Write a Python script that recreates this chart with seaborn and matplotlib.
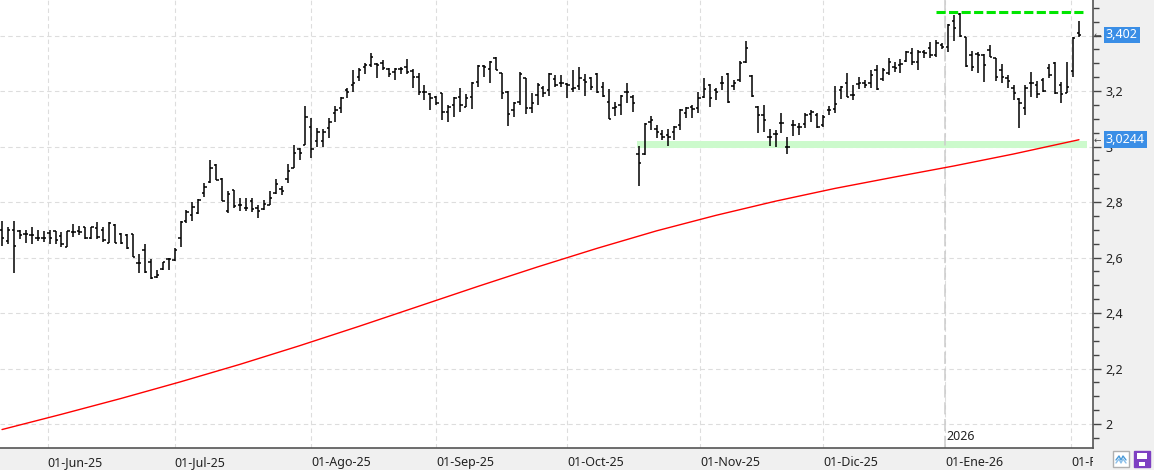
import matplotlib
matplotlib.use("Agg")
import numpy as np
import pandas as pd
import seaborn as sns
import matplotlib.pyplot as plt
import matplotlib.transforms as mtransforms
from matplotlib.patches import Rectangle
from matplotlib.lines import Line2D

# === datos ===
month_labels = ['01-Jun-25', '01-Jul-25', '01-Ago-25', '01-Sep-25', '01-Oct-25',
                '01-Nov-25', '01-Dic-25', '01-Ene-26', '01-Feb-26']
month_pos = [7.67, 29, 52, 73, 95, 117.33, 138, 158.5, 179.67]
year_pos = 158.5
year_label = '2026'

opens = [2.70, 2.66, 2.70, 2.695, 2.685, 2.68, 2.67, 2.672, 2.69, 2.694,
         2.677, 2.637, 2.693, 2.697, 2.71, 2.669, 2.705, 2.70, 2.653, 2.717,
         2.685, 2.682, 2.685, 2.58, 2.627, 2.585, 2.529, 2.557, 2.593, 2.591,
         2.669, 2.731, 2.753, 2.761, 2.831, 2.873, 2.933, 2.884, 2.768, 2.842,
         2.79, 2.78, 2.802, 2.78, 2.774, 2.79, 2.832, 2.848, 2.884, 2.924,
         2.992, 3.004, 3.072, 3.02, 3.02, 3.066, 3.12, 3.14, 3.204, 3.222,
         3.252, 3.288, 3.294, 3.296, 3.30, 3.28, 3.268, 3.28, 3.288, 3.272,
         3.252, 3.198, 3.188, 3.18, 3.192, 3.124, 3.15, 3.18, 3.144, 3.18,
         3.232, 3.29, 3.278, 3.318, 3.264, 3.198, 3.13, 3.162, 3.246, 3.138,
         3.186, 3.21, 3.204, 3.242, 3.228, 3.226, 3.206, 3.218, 3.24, 3.246,
         3.262, 3.216, 3.162, 3.138, 3.15, 3.198, 3.178, 2.974, 2.974, 3.09,
         3.062, 3.046, 3.042, 3.054, 3.078, 3.12, 3.144, 3.138, 3.18, 3.222,
         3.202, 3.228, 3.262, 3.218, 3.238, 3.306, 3.254, 3.144, 3.114, 3.036,
         3.046, 3.084, 3.0, 3.078, 3.07, 3.082, 3.118, 3.114, 3.078, 3.13,
         3.134, 3.204, 3.23, 3.186, 3.226, 3.228, 3.228, 3.276, 3.244, 3.264,
         3.288, 3.292, 3.308, 3.336, 3.306, 3.34, 3.356, 3.33, 3.366, 3.36,
         3.452, 3.476, 3.396, 3.33, 3.332, 3.33, 3.348, 3.318, 3.276, 3.248,
         3.21, 3.172, 3.138, 3.228, 3.222, 3.24, 3.282, 3.30, 3.222, 3.192,
         3.272, 3.408]
highs = [2.73, 2.71, 2.73, 2.70, 2.70, 2.71, 2.70, 2.695, 2.70, 2.697,
         2.693, 2.697, 2.72, 2.713, 2.71, 2.71, 2.727, 2.71, 2.727, 2.72,
         2.687, 2.685, 2.685, 2.613, 2.649, 2.593, 2.555, 2.585, 2.597, 2.633,
         2.733, 2.771, 2.799, 2.81, 2.867, 2.951, 2.937, 2.886, 2.838, 2.844,
         2.814, 2.814, 2.814, 2.788, 2.808, 2.838, 2.884, 2.856, 2.936, 3.004,
         2.994, 3.146, 3.104, 3.068, 3.064, 3.104, 3.146, 3.18, 3.212, 3.276,
         3.282, 3.30, 3.336, 3.30, 3.312, 3.282, 3.284, 3.288, 3.314, 3.28,
         3.264, 3.22, 3.192, 3.182, 3.194, 3.15, 3.18, 3.21, 3.19, 3.232,
         3.294, 3.294, 3.308, 3.322, 3.266, 3.20, 3.162, 3.268, 3.246, 3.192,
         3.23, 3.218, 3.264, 3.258, 3.258, 3.23, 3.276, 3.286, 3.262, 3.25,
         3.264, 3.234, 3.206, 3.162, 3.186, 3.228, 3.186, 3.002, 3.086, 3.11,
         3.078, 3.06, 3.062, 3.074, 3.134, 3.142, 3.15, 3.198, 3.246, 3.226,
         3.21, 3.254, 3.266, 3.24, 3.308, 3.38, 3.258, 3.146, 3.15, 3.062,
         3.06, 3.12, 3.034, 3.094, 3.086, 3.122, 3.132, 3.12, 3.114, 3.146,
         3.218, 3.218, 3.266, 3.222, 3.25, 3.24, 3.276, 3.292, 3.284, 3.32,
         3.304, 3.316, 3.344, 3.356, 3.348, 3.348, 3.376, 3.384, 3.372, 3.44,
         3.474, 3.48, 3.396, 3.344, 3.342, 3.332, 3.366, 3.32, 3.296, 3.256,
         3.222, 3.176, 3.22, 3.27, 3.236, 3.248, 3.296, 3.304, 3.234, 3.304,
         3.396, 3.452]
lows = [2.64, 2.65, 2.545, 2.665, 2.654, 2.647, 2.66, 2.657, 2.65, 2.65,
        2.639, 2.637, 2.675, 2.681, 2.667, 2.665, 2.665, 2.655, 2.653, 2.653,
        2.649, 2.63, 2.603, 2.545, 2.545, 2.521, 2.525, 2.555, 2.555, 2.589,
        2.639, 2.723, 2.733, 2.757, 2.819, 2.867, 2.879, 2.802, 2.76, 2.78,
        2.768, 2.766, 2.764, 2.742, 2.772, 2.788, 2.828, 2.824, 2.868, 2.922,
        2.952, 3.004, 2.958, 3.0, 2.998, 3.032, 3.09, 3.12, 3.174, 3.198,
        3.236, 3.26, 3.288, 3.248, 3.276, 3.252, 3.24, 3.26, 3.26, 3.212,
        3.184, 3.168, 3.132, 3.15, 3.096, 3.09, 3.108, 3.126, 3.142, 3.134,
        3.214, 3.252, 3.23, 3.274, 3.17, 3.074, 3.106, 3.15, 3.116, 3.122,
        3.15, 3.178, 3.182, 3.214, 3.214, 3.174, 3.198, 3.202, 3.182, 3.202,
        3.192, 3.178, 3.098, 3.11, 3.114, 3.156, 3.126, 2.856, 2.97, 3.058,
        3.03, 3.024, 3.002, 3.022, 3.058, 3.102, 3.102, 3.12, 3.174, 3.144,
        3.166, 3.204, 3.158, 3.202, 3.234, 3.302, 3.18, 3.05, 3.054, 3.002,
        2.998, 3.05, 2.974, 3.038, 3.042, 3.066, 3.09, 3.066, 3.07, 3.114,
        3.12, 3.17, 3.178, 3.166, 3.206, 3.21, 3.212, 3.204, 3.236, 3.258,
        3.27, 3.264, 3.306, 3.292, 3.276, 3.32, 3.32, 3.324, 3.352, 3.342,
        3.38, 3.396, 3.288, 3.272, 3.264, 3.234, 3.324, 3.236, 3.228, 3.212,
        3.168, 3.068, 3.114, 3.18, 3.174, 3.198, 3.248, 3.188, 3.156, 3.192,
        3.252, 3.396]
closes = [2.67, 2.70, 2.64, 2.68, 2.685, 2.68, 2.67, 2.672, 2.67, 2.663,
          2.649, 2.695, 2.693, 2.693, 2.669, 2.709, 2.673, 2.663, 2.723, 2.653,
          2.653, 2.633, 2.603, 2.579, 2.549, 2.525, 2.537, 2.583, 2.593, 2.627,
          2.729, 2.765, 2.781, 2.807, 2.853, 2.921, 2.881, 2.804, 2.828, 2.784,
          2.788, 2.78, 2.776, 2.766, 2.792, 2.814, 2.864, 2.84, 2.91, 2.976,
          2.976, 3.108, 2.992, 3.052, 3.052, 3.09, 3.132, 3.174, 3.198, 3.228,
          3.276, 3.292, 3.324, 3.292, 3.282, 3.26, 3.28, 3.28, 3.27, 3.252,
          3.198, 3.196, 3.174, 3.156, 3.124, 3.144, 3.174, 3.15, 3.174, 3.228,
          3.29, 3.286, 3.306, 3.276, 3.194, 3.118, 3.156, 3.262, 3.138, 3.158,
          3.222, 3.194, 3.262, 3.222, 3.228, 3.222, 3.21, 3.246, 3.234, 3.216,
          3.198, 3.182, 3.098, 3.142, 3.182, 3.198, 3.158, 2.942, 3.082, 3.094,
          3.054, 3.036, 3.036, 3.072, 3.132, 3.138, 3.134, 3.174, 3.206, 3.174,
          3.198, 3.228, 3.162, 3.23, 3.302, 3.354, 3.182, 3.114, 3.096, 3.036,
          3.046, 3.084, 3.0, 3.078, 3.07, 3.114, 3.126, 3.07, 3.106, 3.132,
          3.154, 3.214, 3.18, 3.186, 3.23, 3.22, 3.256, 3.208, 3.276, 3.306,
          3.284, 3.296, 3.342, 3.304, 3.342, 3.336, 3.33, 3.372, 3.36, 3.438,
          3.428, 3.40, 3.29, 3.288, 3.328, 3.294, 3.324, 3.252, 3.252, 3.236,
          3.192, 3.156, 3.21, 3.228, 3.188, 3.20, 3.256, 3.192, 3.188, 3.216,
          3.392, 3.402]

# media movil (roja), leida cada 10 sesiones
ma_idx = [0, 10, 20, 30, 40, 50, 60, 70, 80, 90, 100, 110, 120, 130, 140, 150, 160, 170, 181]
ma_val = [1.98, 2.035, 2.092, 2.152, 2.215, 2.282, 2.352, 2.424, 2.496, 2.566,
          2.633, 2.696, 2.752, 2.803, 2.849, 2.89, 2.93, 2.973, 3.0244]

# resistencia (verde discontinua) y soporte (banda verde clara)
res_level = 3.484
res_from, res_to = 157, 182.2
sup_low, sup_high = 2.996, 3.020
sup_from, sup_to = 106.8, 182.3

W, H = 1154, 470

sns.set_style("white")
plt.rcParams['font.family'] = ['Noto Sans', 'DejaVu Sans']

df = pd.DataFrame({'open': opens, 'high': highs, 'low': lows, 'close': closes})
df['i'] = np.arange(len(df))

fig = plt.figure(figsize=(W / 100, H / 100), dpi=100, facecolor='#f0f0f0')
ax = fig.add_axes([0, 22 / H, 1093 / W, 448 / H])
ax.set_facecolor('white')

# banda de soporte
ax.fill_between([sup_from, sup_to], sup_low, sup_high, color='#ccfacc', lw=0, zorder=1)

# barras OHLC
ax.vlines(df['i'], df['low'], df['high'], color='black', lw=1.1, zorder=3)
ax.hlines(df['open'], df['i'] - 0.4, df['i'], color='black', lw=1.1, zorder=3)
ax.hlines(df['close'], df['i'], df['i'] + 0.4, color='black', lw=1.1, zorder=3)

# media movil
sns.lineplot(x=ma_idx, y=ma_val, color='#ff0000', lw=1.0, ax=ax, zorder=4)

# resistencia
ax.plot([res_from, res_to], [res_level, res_level], color='#00e600', lw=2.2,
        ls=(0, (3, 1.1)), zorder=4)

# separacion de anyo
ax.axvline(year_pos, color='#cccccc', lw=1.1, ls=(0, (8, 3)), zorder=2)
ax.text(year_pos + 0.3, 0.025, year_label, transform=mtransforms.blended_transform_factory(
    ax.transData, ax.transAxes), fontsize=9, color='#222222', va='center', ha='left')

ax.set_xlim(-0.336, 183.36)
ax.set_ylim(1.9135, 3.528)

# ejes
ax.set_xticks(month_pos)
ax.set_xticklabels(month_labels)
clip = mtransforms.TransformedBbox(mtransforms.Bbox([[0, -1], [1, 2]]), ax.transAxes)
for lab in ax.get_xticklabels():
    lab.set_ha('left')
    lab.set_clip_on(True)
    lab.set_clip_box(clip)
ax.yaxis.tick_right()
ax.set_yticks(np.arange(2.0, 3.41, 0.2))
ax.set_yticks(np.arange(1.95, 3.53, 0.05), minor=True)
ax.yaxis.set_major_formatter(plt.FuncFormatter(lambda v, p: f"{round(v, 1):g}".replace('.', ',')))
ax.tick_params(axis='y', which='major', length=6, width=1, color='#444444', pad=3,
               labelsize=9, labelcolor='#222222')
ax.tick_params(axis='y', which='minor', length=4, width=1, color='#444444')
ax.tick_params(axis='x', which='major', length=7, width=1, color='#444444', pad=-1,
               labelsize=9, labelcolor='#222222')
ax.grid(True, which='major', color='#dddddd', lw=0.8, ls=(0, (4, 3)))
for s in ['left', 'top']:
    ax.spines[s].set_visible(False)
for s in ['right', 'bottom']:
    ax.spines[s].set_color('#555555')
    ax.spines[s].set_linewidth(1.2)
ax.set_xlabel('')
ax.set_ylabel('')

# etiquetas de ultimo valor
bt = mtransforms.blended_transform_factory(ax.transAxes, ax.transData)
for val in [closes[-1], ma_val[-1]]:
    ax.text(1.0118, val, str(val).replace('.', ','), transform=bt, fontsize=9, color='white',
            va='center', ha='left', clip_on=False, zorder=10,
            bbox=dict(boxstyle='square,pad=0.15', fc='#3a8ee6', ec='none'))
    ax.text(1.0004, val, '←', transform=bt, fontsize=6.5, color='#444444', va='center',
            ha='left', clip_on=False, family='DejaVu Sans', zorder=10)

# iconos inferiores
def fx(x):
    return x / W

def fy(y):
    return 1 - y / H

fig.add_artist(Rectangle((fx(1113), fy(467)), 16 / W, 16 / H, transform=fig.transFigure,
                         fc='white', ec='#b0b0b0', lw=1))
fig.add_artist(Line2D([fx(1116), fx(1119), fx(1121), fx(1123), fx(1126)],
                      [fy(460), fy(456), fy(460), fy(456), fy(460)],
                      transform=fig.transFigure, color='#4a9ad8', lw=1))
fig.add_artist(Line2D([fx(1116), fx(1119), fx(1121), fx(1123), fx(1126)],
                      [fy(463), fy(459), fy(463), fy(459), fy(463)],
                      transform=fig.transFigure, color='#8cc0ea', lw=1))
fig.add_artist(Rectangle((fx(1134), fy(467)), 16 / W, 16 / H, transform=fig.transFigure,
                         fc='#7d3fc2', ec='#7d3fc2', lw=1))
fig.add_artist(Rectangle((fx(1137), fy(459)), 10 / W, 6 / H, transform=fig.transFigure,
                         fc='white', ec='none'))
fig.add_artist(Rectangle((fx(1139), fy(466)), 6 / W, 4 / H, transform=fig.transFigure,
                         fc='white', ec='none'))

fig.savefig('out.png', dpi=100, facecolor=fig.get_facecolor())
